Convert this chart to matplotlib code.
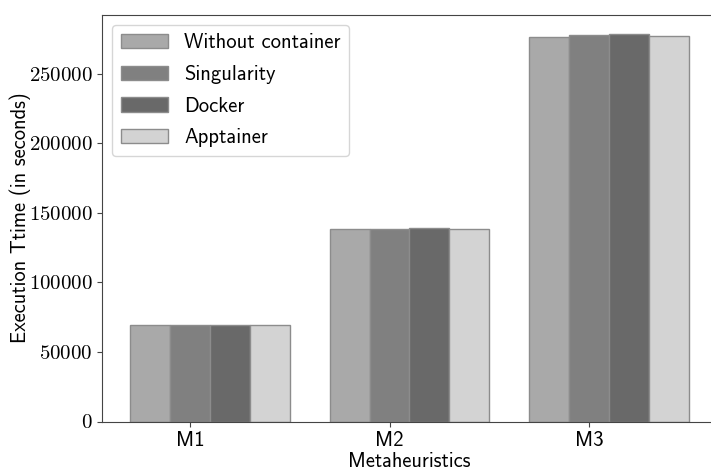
"""
Execution time per metaheuristic, with and without containers
"""

import matplotlib
matplotlib.use('Agg')
import matplotlib.pyplot as plt
import numpy as np

#---------------------------------------------------------------------------------------------------
# Data
#---------------------------------------------------------------------------------------------------

metaheuristics = ['M1', 'M2', 'M3']
setups = ['Without container', 'Singularity', 'Docker', 'Apptainer']
without_container = [69300, 138800, 276800]
singularity = [69300, 138700, 278000]
docker = [69300, 139400, 278700]
apptainer = [69300, 138800, 277500]
colors = ['darkgray', 'gray', 'dimgray', 'lightgray']

#---------------------------------------------------------------------------------------------------
# Plot
#---------------------------------------------------------------------------------------------------

plt.rcParams['font.family'] = 'cmss10'
plt.rcParams['axes.formatter.use_mathtext'] = True

fig = plt.figure(figsize=(7.11, 4.70), dpi=100)
# axes run a little past the right edge (reference is cropped there)
ax = fig.add_axes([102 / 711, 1 - 421.5 / 470, (717 - 102) / 711, (421.5 - 14.7) / 470])

x = np.arange(len(metaheuristics))
width = 0.2
series = [without_container, singularity, docker, apptainer]
for i, (lab, vals) in enumerate(zip(setups, series)):
    ax.bar(x + (i - 1) * width, vals, width, color=colors[i], label=lab,
           edgecolor='#8c8c8c', linewidth=1.0)

ax.set_xticks(x)
ax.set_xticklabels(metaheuristics, fontsize=15)
ax.tick_params(axis='y', labelsize=15)
for t in ax.get_yticklabels():
    t.set_fontfamily('cmr10')
ax.set_xlabel('Metaheuristics', fontsize=14.7, labelpad=1)
ax.set_ylabel('Execution Ttime (in seconds)', fontsize=14.7, labelpad=-2)

for side in ax.spines:
    ax.spines[side].set_color('#444444')
ax.tick_params(color='#444444')

ax.legend(loc='upper left', fontsize=14.8, handlelength=2.3, labelspacing=0.62)

plt.savefig('out.png', dpi=100)
